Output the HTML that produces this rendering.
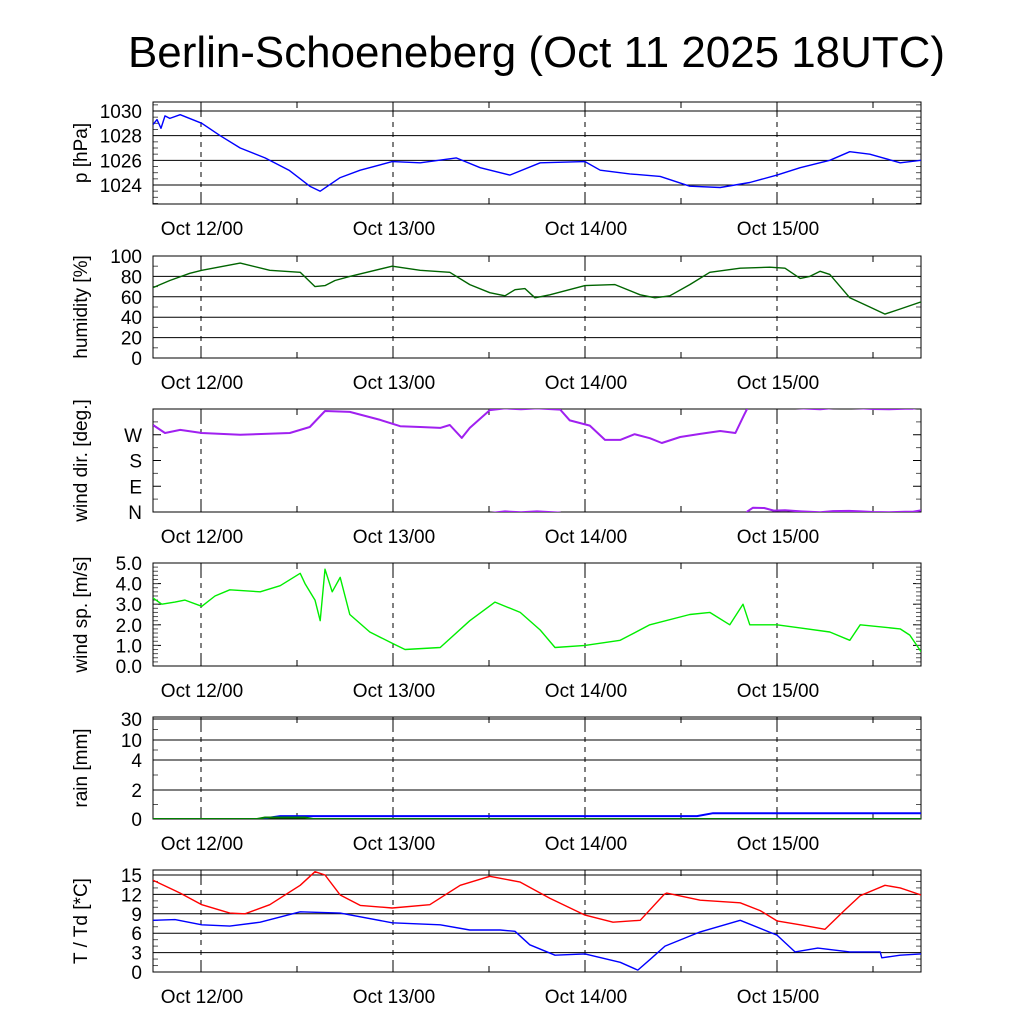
<!DOCTYPE html>
<html><head><meta charset="utf-8"><style>
html,body{margin:0;padding:0;background:#fff;}
svg text{font-family:"Liberation Sans",sans-serif;fill:#000;}
</style></head><body>
<svg id="chart" width="1024" height="1024" xmlns="http://www.w3.org/2000/svg">
<rect width="1024" height="1024" fill="#fff"/>
<text x="128" y="67" font-size="44" textLength="817" lengthAdjust="spacingAndGlyphs">Berlin-Schoeneberg (Oct 11 2025 18UTC)</text>
</svg>
<script>
// ---- data (hours since Oct 11 18UTC) ----
const dayTicks = [6, 30, 54, 78];
const dayLabels = ["Oct 12/00", "Oct 13/00", "Oct 14/00", "Oct 15/00"];
const halfTicks = [18, 42, 66, 90];

const pTime = [0,0.5,1,1.5,2.1,3.4,6.1,8.4,10.9,14,17,19.6,20.9,23.4,25.9,29.9,33.4,37.9,40.9,44.6,48.4,54,55.9,59.6,63.4,67.1,70.9,74.6,78,80.9,84.6,87.1,89.6,93.4,96];
const pVal = [1028.9,1029.3,1028.6,1029.6,1029.4,1029.7,1029.0,1028.0,1027.0,1026.2,1025.2,1023.9,1023.5,1024.6,1025.2,1025.9,1025.8,1026.2,1025.4,1024.8,1025.8,1025.9,1025.2,1024.9,1024.7,1023.9,1023.8,1024.2,1024.8,1025.4,1026.0,1026.7,1026.5,1025.8,1026.0];
const pTicks = [1024,1026,1028,1030];

const hTime = [0,2.1,4.6,6.1,10.9,14.6,18.4,20.25,21.5,22.75,24.6,29.9,33.4,37.1,39.6,42.1,44,45.25,46.5,47.75,49.6,54,57.75,60.9,62.75,64.6,67.1,69.6,73.4,77.1,79,80.9,82.1,83.4,84.6,87.1,89.6,91.5,93.4,96];
const hVal = [69,76,83,86,93,86,84,70,71,76,80,90,86,84,72,64,61,67,68,59,62,71,72,62,59,61,72,84,88,89,88,78,80,85,82,59,50,43,48,55];
const hTicks = [0,20,40,60,80,100];

const dTime = [0,1.5,3.4,6.1,10.9,17.1,19.6,21.5,24.6,28.4,30.9,33.4,35.9,37.1,38.6,39.6,42.1,44,46,48,50,50.9,52.1,54.6,56.5,58.4,60.2,62.1,63.6,65.9,68.4,70.9,72.8,73.9,74.3,75,76.4,77.6,79,81,83.4,85,87,88.5,90,92,94,95,96];
const dVal = [304,276,287,276,270,276,297,353,350,322,300,297,294,304,259,294,356,362,359,362,359,358,320,302,252,252,272,258,241,262,273,283,276,340,362,375,374,365,366,362,359,363,364,362,360,359,361,361,366];
const dTicks = [0,90,180,270];
const dLabels = ["N","E","S","W"];

const sTime = [0,1.1,2.75,4,6.1,7.75,9.6,13.4,15.9,18.4,19,20.25,20.9,21.5,22.4,23.4,24.6,27.1,29.9,31.5,35.9,39.6,42.75,45.9,48.4,50.25,54,58.4,62.1,67.1,69.6,72.1,73.75,74.6,78,80.9,84.6,87.1,88.4,93.4,94.6,96];
const sVal = [3.3,3.0,3.1,3.2,2.9,3.4,3.7,3.6,3.9,4.5,4.0,3.2,2.2,4.7,3.6,4.3,2.5,1.65,1.1,0.8,0.9,2.2,3.1,2.6,1.75,0.9,1.0,1.25,2.0,2.5,2.6,2.0,3.0,2.0,2.0,1.85,1.65,1.25,2.0,1.8,1.5,0.7];
const sTicks = [0,1,2,3,4,5];

const rTime = [0,13.4,15.9,68,70,96];
const rSum = [0,0,0.2,0.2,0.4,0.4];
const rHourTime = [0,13,14,19,20,96];
const rHour = [0,0,0.1,0.1,0,0];
const rTicks = [0,2,4,10,30];

const tTime = [0,3.4,6.1,9.6,11.5,14.6,18.4,20.25,21.5,23.4,25.9,29.9,34.6,38.4,42.1,45.9,49.6,54,57.5,60.9,63.9,64.2,68.4,73.4,75.9,78,80.9,84,86.5,88.4,91.5,93.4,96];
const tVal = [14.2,12.2,10.4,9.1,9.0,10.4,13.4,15.5,15.0,11.9,10.3,9.9,10.4,13.4,14.8,13.9,11.4,8.8,7.7,8.0,12.0,12.2,11.1,10.7,9.5,7.9,7.3,6.6,9.6,11.8,13.4,13.0,11.9];
const tdTime = [0,2.75,6.1,9.6,13.4,18.4,23.4,29.9,35.9,39.6,43.4,45.25,47.1,50.25,54,58.4,60.6,62.1,64,68.4,73.4,78,80.25,83.1,87.1,90.9,91.1,93.4,96];
const tdVal = [8.0,8.1,7.3,7.1,7.7,9.3,9.1,7.6,7.3,6.5,6.5,6.3,4.2,2.6,2.8,1.5,0.3,1.9,4.0,6.2,8.0,5.7,3.1,3.7,3.1,3.1,2.2,2.6,2.8];
const tTicks = [0,3,6,9,12,15];

// ---- layout ----
const svg = document.getElementById('chart');
const NS = 'http://www.w3.org/2000/svg';
const X0 = 153, X1 = 921, T0 = 0, T1 = 96;
const xs = t => X0 + (t - T0) / (T1 - T0) * (X1 - X0);
function mk(tag, attrs, parent) {
  const e = document.createElementNS(NS, tag);
  for (const k in attrs) e.setAttribute(k, attrs[k]);
  (parent || svg).appendChild(e);
  return e;
}
function panel(name, top, bot, yfun, ticks, labels, grid, minor, title) {
  const g = mk('g', {});
  
  
  const clipId = 'clip-' + name;
  const cp = mk('clipPath', {id: clipId}, g);
  mk('rect', {x: X0, y: top, width: X1 - X0, height: bot - top}, cp);
  ticks.forEach((v, i) => {
    const y = yfun(v);
    if (grid) {
      const l = mk('line', {x1: X0, x2: X1, y1: y, y2: y, stroke: '#000', 'stroke-width': 1}, g);
      
      
    } else {
      mk('line', {x1: X0, x2: X0 + 8, y1: y, y2: y, stroke: '#000'}, g);
      mk('line', {x1: X1 - 8, x2: X1, y1: y, y2: y, stroke: '#000'}, g);
    }
    const tx = mk('text', {x: 142, y: y + 7, 'font-size': 19, 'text-anchor': 'end'}, g);
    tx.textContent = labels[i];
    
    
  });
  minor.forEach(v => {
    const y = yfun(v);
    mk('line', {x1: X0, x2: X0 + 5, y1: y, y2: y, stroke: '#555'}, g);
    mk('line', {x1: X1 - 5, x2: X1, y1: y, y2: y, stroke: '#555'}, g);
  });
  dayTicks.forEach((t, i) => {
    const x = xs(t);
    const l = mk('line', {x1: x, x2: x, y1: top, y2: bot, stroke: '#000', 'stroke-dasharray': '5,5'}, g);
    
    
    mk('line', {x1: x, x2: x, y1: bot - 10, y2: bot, stroke: '#000'}, g);
    mk('line', {x1: x, x2: x, y1: top, y2: top + 10, stroke: '#000'}, g);
    const tx = mk('text', {x: x + 1, y: bot + 31, 'font-size': 19, 'text-anchor': 'middle'}, g);
    tx.textContent = dayLabels[i];
    
    
  });
  halfTicks.forEach(t => {
    const x = xs(t);
    mk('line', {x1: x, x2: x, y1: bot - 6, y2: bot, stroke: '#000'}, g);
    mk('line', {x1: x, x2: x, y1: top, y2: top + 6, stroke: '#000'}, g);
  });
  const fr = mk('rect', {x: X0, y: top, width: X1 - X0, height: bot - top, fill: 'none', stroke: '#000', 'stroke-width': 1}, g);
  
  
  const cy = (top + bot) / 2;
  const tt = mk('text', {x: 0, y: 0, 'font-size': 19, 'text-anchor': 'middle', transform: `translate(87 ${cy}) rotate(-90)`}, g);
  tt.textContent = title;
  
  
  const lg = mk('g', {'clip-path': `url(#${clipId})`}, g);
  return lg;
}
function line(g, times, vals, yfun, color, name, w) {
  const d = times.map((t, i) => (i ? 'L' : 'M') + xs(t).toFixed(1) + ' ' + yfun(vals[i]).toFixed(1)).join(' ');
  const p = mk('path', {d: d, fill: 'none', stroke: color, 'stroke-width': w || 1.4, 'stroke-linejoin': 'round'}, g);
  
  
  return p;
}
const lin = (top, bot, vmin, vmax) => v => bot - (v - vmin) / (vmax - vmin) * (bot - top);

const yP = lin(102, 204, 1022.46, 1030.73);
const pMinor = []; for (let v = 1022.5; v <= 1030.5; v += 0.5) if (v % 2) pMinor.push(v);
const gP = panel('pressure', 102, 204, yP, pTicks, pTicks.map(String), true, pMinor, 'p [hPa]');
line(gP, pTime, pVal, yP, '#0000ff', 'pressure-line');

const yH = lin(256, 358, 0, 100);
const gH = panel('humidity', 256, 358, yH, hTicks, hTicks.map(String), true, [10,30,50,70,90], 'humidity [%]');
line(gH, hTime, hVal, yH, '#006400', 'humidity-line');

const yD = lin(409, 512, 0, 360);
const gD = panel('wind-dir', 409, 512, yD, dTicks, dLabels, false, [45,135,225,315], 'wind dir. [deg.]');
[-360, 0].forEach(off => line(gD, dTime, dVal.map(v => v + off), yD, '#a020f0', 'wind-dir-line', 2));

const yS = lin(563, 666, 0, 5);
const sMinor = []; for (let v = 0.2; v < 5; v += 0.2) sMinor.push(v);
const gS = panel('wind-speed', 563, 666, yS, sTicks, sTicks.map(v => v.toFixed(1)), false, sMinor, 'wind sp. [m/s]');
line(gS, sTime, sVal, yS, '#00ee00', 'wind-speed-line');

const rPix = [819, 790, 760, 740, 719];
const yR = v => {
  for (let i = 1; i < rTicks.length; i++) if (v <= rTicks[i]) {
    const f = (v - rTicks[i-1]) / (rTicks[i] - rTicks[i-1]);
    return rPix[i-1] + f * (rPix[i] - rPix[i-1]);
  }
  return rPix[rPix.length - 1];
};
const gR = panel('rain', 717, 819, yR, rTicks, rTicks.map(String), true, [1,3,7,20], 'rain [mm]');
line(gR, rTime, rSum, yR, '#0000ff', 'rain-sum-line', 2);
line(gR, rHourTime, rHour, yR, '#008000', 'rain-hourly-line', 2);

const yT = lin(870, 972, 0, 15.77);
const tMinor = []; for (let v = 1; v < 15.5; v++) if (v % 3) tMinor.push(v);
const gT = panel('temperature', 870, 972, yT, tTicks, tTicks.map(String), true, tMinor, 'T / Td [*C]');
line(gT, tTime, tVal, yT, '#ff0000', 'temperature-line');
line(gT, tdTime, tdVal, yT, '#0000ff', 'dewpoint-line');
</script>
</body></html>
